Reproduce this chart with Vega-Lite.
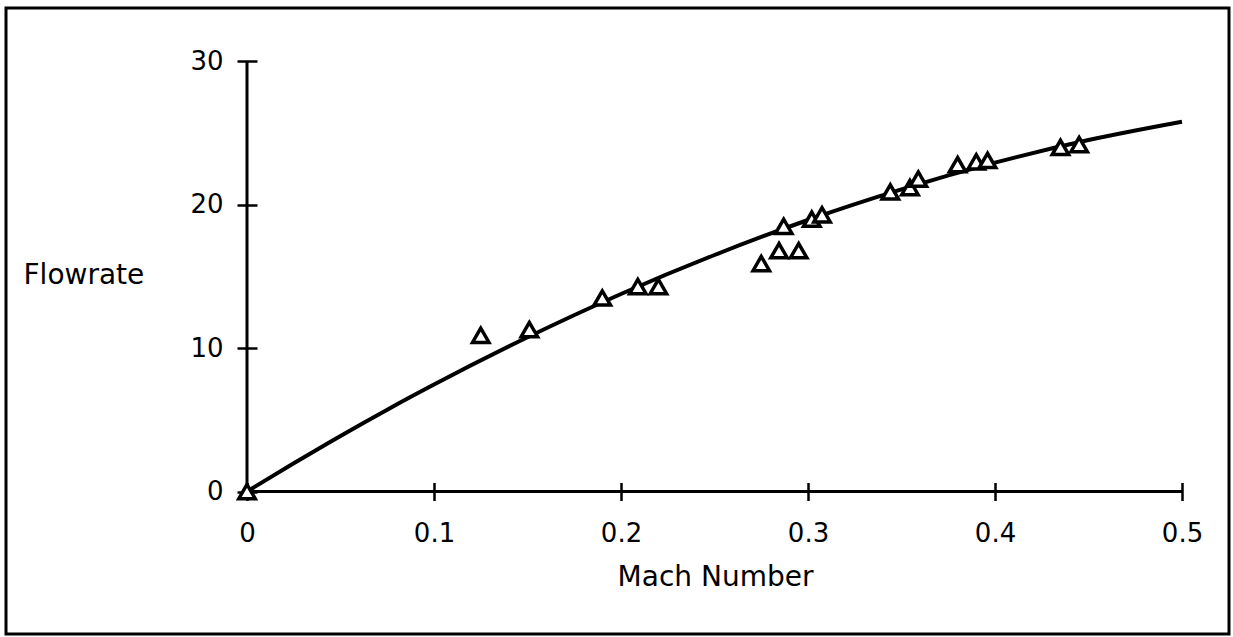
{
  "$schema": "https://vega.github.io/schema/vega-lite/v6.json",
  "width": 1223,
  "height": 626,
  "autosize": "none",
  "padding": {"left": 6, "top": 8, "right": 4, "bottom": 3},
  "background": "white",
  "config": {
    "view": {"stroke": "black", "strokeWidth": 3},
    "font": "DejaVu Sans"
  },
  "datasets": {
    "obs": [
      {"mach": 0.0, "flow": 0.0},
      {"mach": 0.125, "flow": 10.9},
      {"mach": 0.151, "flow": 11.3},
      {"mach": 0.190, "flow": 13.5},
      {"mach": 0.209, "flow": 14.3},
      {"mach": 0.220, "flow": 14.3},
      {"mach": 0.275, "flow": 15.9},
      {"mach": 0.2845, "flow": 16.8},
      {"mach": 0.295, "flow": 16.8},
      {"mach": 0.287, "flow": 18.5},
      {"mach": 0.302, "flow": 19.0},
      {"mach": 0.3075, "flow": 19.3},
      {"mach": 0.344, "flow": 20.9},
      {"mach": 0.3545, "flow": 21.2},
      {"mach": 0.359, "flow": 21.8},
      {"mach": 0.380, "flow": 22.8},
      {"mach": 0.390, "flow": 23.0},
      {"mach": 0.396, "flow": 23.1},
      {"mach": 0.435, "flow": 24.0},
      {"mach": 0.445, "flow": 24.2}
    ],
    "curve": [
      {"mach": 0.0, "flow": 0.0},
      {"mach": 0.025, "flow": 1.97},
      {"mach": 0.05, "flow": 3.88},
      {"mach": 0.075, "flow": 5.71},
      {"mach": 0.1, "flow": 7.46},
      {"mach": 0.15, "flow": 10.76},
      {"mach": 0.2, "flow": 13.78},
      {"mach": 0.25, "flow": 16.5},
      {"mach": 0.3, "flow": 18.94},
      {"mach": 0.35, "flow": 21.08},
      {"mach": 0.4, "flow": 22.94},
      {"mach": 0.45, "flow": 24.52},
      {"mach": 0.5, "flow": 25.8}
    ],
    "axislines": [
      {"x": 0, "x2": 0.5, "y": 0, "y2": 0},
      {"x": 0, "x2": 0, "y": 0, "y2": 30}
    ]
  },
  "layer": [
    {
      "data": {"name": "axislines"},
      "mark": {"type": "rule", "color": "black", "strokeWidth": 3},
      "encoding": {
        "x": {
          "field": "x", "type": "quantitative",
          "scale": {"domain": [-0.12888, 0.52513], "nice": false, "zero": false},
          "axis": {
            "title": "Mach Number",
            "values": [0, 0.1, 0.2, 0.3, 0.4, 0.5],
            "format": ".1~f",
            "domain": false, "grid": false,
            "offset": -151.5,
            "tickSize": 18, "tickWidth": 2.5, "tickColor": "black",
            "labelPadding": 20, "labelFontSize": 26, "labelColor": "black",
            "labelFont": "DejaVu Sans",
            "titleFont": "DejaVu Sans", "titleFontSize": 28, "titleFontWeight": "normal",
            "titleColor": "black",
            "titleX": 709, "titleY": 94.5, "titleAlign": "center", "titleBaseline": "middle"
          }
        },
        "x2": {"field": "x2"},
        "y": {
          "field": "y", "type": "quantitative",
          "scale": {"domain": [-9.94, 33.73], "nice": false, "zero": false},
          "axis": {
            "title": "Flowrate",
            "values": [0, 10, 20, 30],
            "domain": false, "grid": false,
            "offset": -251,
            "tickSize": 20, "tickWidth": 2.5, "tickColor": "black",
            "labelPadding": 14, "labelFontSize": 26, "labelColor": "black",
            "labelFont": "DejaVu Sans",
            "titleFont": "DejaVu Sans", "titleFontSize": 28, "titleFontWeight": "normal",
            "titleColor": "black", "titleAngle": 0,
            "titleX": -234, "titleY": 267, "titleAlign": "left", "titleBaseline": "middle"
          }
        },
        "y2": {"field": "y2"}
      }
    },
    {
      "data": {"name": "curve"},
      "mark": {"type": "line", "color": "black", "strokeWidth": 4, "interpolate": "monotone"},
      "encoding": {
        "x": {"field": "mach", "type": "quantitative"},
        "y": {"field": "flow", "type": "quantitative"}
      }
    },
    {
      "data": {"name": "obs"},
      "mark": {"type": "point", "shape": "triangle-up", "filled": false, "fill": "white", "fillOpacity": 1, "stroke": "black", "strokeWidth": 3.5, "size": 270, "opacity": 1},
      "encoding": {
        "x": {"field": "mach", "type": "quantitative"},
        "y": {"field": "flow", "type": "quantitative"}
      }
    }
  ]
}
